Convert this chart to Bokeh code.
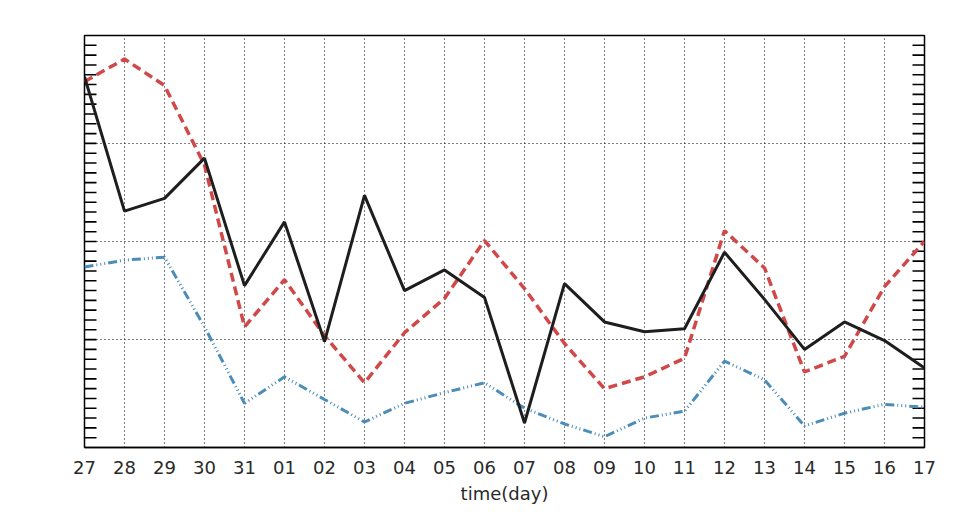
import math
from bokeh.plotting import figure
from bokeh.models import FixedTicker, Range1d, LabelSet, Label, ColumnDataSource
from bokeh.core.properties import value
from bokeh.embed import file_html
from bokeh.resources import INLINE

days = ["27", "28", "29", "30", "31", "01", "02", "03", "04", "05", "06",
        "07", "08", "09", "10", "11", "12", "13", "14", "15", "16", "17"]
black_series = [3.68, 2.31, 2.44, 2.85, 1.55, 2.20, 0.98, 2.47, 1.50, 1.71, 1.43,
                0.15, 1.57, 1.18, 1.08, 1.11, 1.89, 1.41, 0.90, 1.18, 0.99, 0.71]
red_series = [3.63, 3.86, 3.59, 2.78, 1.13, 1.61, 1.04, 0.56, 1.07, 1.42, 2.01,
              1.52, 0.96, 0.50, 0.62, 0.81, 2.11, 1.73, 0.67, 0.83, 1.54, 2.00]
blue_series = [1.74, 1.81, 1.84, 1.13, 0.35, 0.62, 0.39, 0.16, 0.35, 0.46, 0.56,
               0.30, 0.14, 0.01, 0.20, 0.27, 0.78, 0.59, 0.12, 0.25, 0.34, 0.31]
y_ticks = [0, 1, 2, 3, 4]
y_tick_labels = ["0", "1", "2", "3", "4"]
y_minor_step = 0.1
y_title = "μgC m⁻³"

x = list(range(len(days)))
FONT = "DejaVu Sans"
TXT = "#2a2a2a"

X0, X1 = 0, len(days) - 1
p = figure(width=960, height=520, output_backend="svg", toolbar_location=None,
           x_range=Range1d(X0, X1), y_range=Range1d(-0.1, 4.1),
           min_border_left=84, min_border_right=36, min_border_top=35,
           min_border_bottom=73, background_fill_color="white",
           border_fill_color="white")
p.outline_line_color = "black"
p.outline_line_width = 1.5

# x axis
xa = p.xaxis[0]
xa.ticker = FixedTicker(ticks=x)
xa.major_label_overrides = {i: d for i, d in enumerate(days)}
xa.major_tick_in = 0
xa.major_tick_out = 0
xa.minor_tick_in = 0
xa.minor_tick_out = 0
xa.axis_line_color = "black"
xa.axis_line_width = 1.5
xa.major_label_text_font = FONT
xa.major_label_text_font_size = "18px"
xa.major_label_text_color = TXT
xa.major_label_standoff = 13
xa.axis_label = "time(day)"
xa.axis_label_text_font = FONT
xa.axis_label_text_font_size = "18px"
xa.axis_label_text_font_style = "normal"
xa.axis_label_text_color = TXT
xa.axis_label_standoff = 6

# y axis: hidden; labels drawn as annotations
p.yaxis.visible = False
ysrc = ColumnDataSource(dict(x=[X0] * len(y_ticks), y=y_ticks, t=y_tick_labels))
p.add_layout(LabelSet(x="x", y="y", text="t", source=ysrc, x_offset=-8,
                      text_align="right", text_baseline="middle",
                      text_font=value(FONT), text_font_size="19px",
                      text_color=TXT))
p.add_layout(Label(x=X0, y=(y_ticks[0] + y_ticks[-1]) / 2, x_offset=-44,
                   text=y_title, angle=math.pi / 2, text_align="center",
                   text_baseline="middle", text_font=FONT,
                   text_font_size="22px", text_color=TXT))

# grids
p.xgrid.ticker = FixedTicker(ticks=x[1:-1])
p.ygrid.ticker = FixedTicker(ticks=y_ticks[1:-1])
for g in (p.xgrid[0], p.ygrid[0]):
    g.grid_line_color = "black"
    g.grid_line_dash = "1 3"
    g.grid_line_width = 1

# inward y ticks on left and right frame edges
n_minor = int(round((y_ticks[-1] - y_ticks[0]) / y_minor_step))
tick_y = [round(y_ticks[0] + k * y_minor_step, 3) for k in range(n_minor + 1)]
tick_len = 0.3
nan = float("nan")
lx, ly, rx, ry = [], [], [], []
for t in tick_y:
    lx += [X0, X0 + tick_len, nan]
    ly += [t, t, nan]
    rx += [X1 - tick_len, X1, nan]
    ry += [t, t, nan]
p.line(lx, ly, line_color="black", line_width=1.6)
p.line(rx, ry, line_color="black", line_width=1.6)

# data lines
p.line(x, blue_series, line_color="#4a8db8", line_width=3,
       line_dash="9 3 1 3 1 3 1 3")
p.line(x, red_series, line_color="#d04848", line_width=3.5, line_dash="9 5")
p.line(x, black_series, line_color="#1e1e1e", line_width=3)

open("out.html", "w").write(file_html(p, INLINE))
